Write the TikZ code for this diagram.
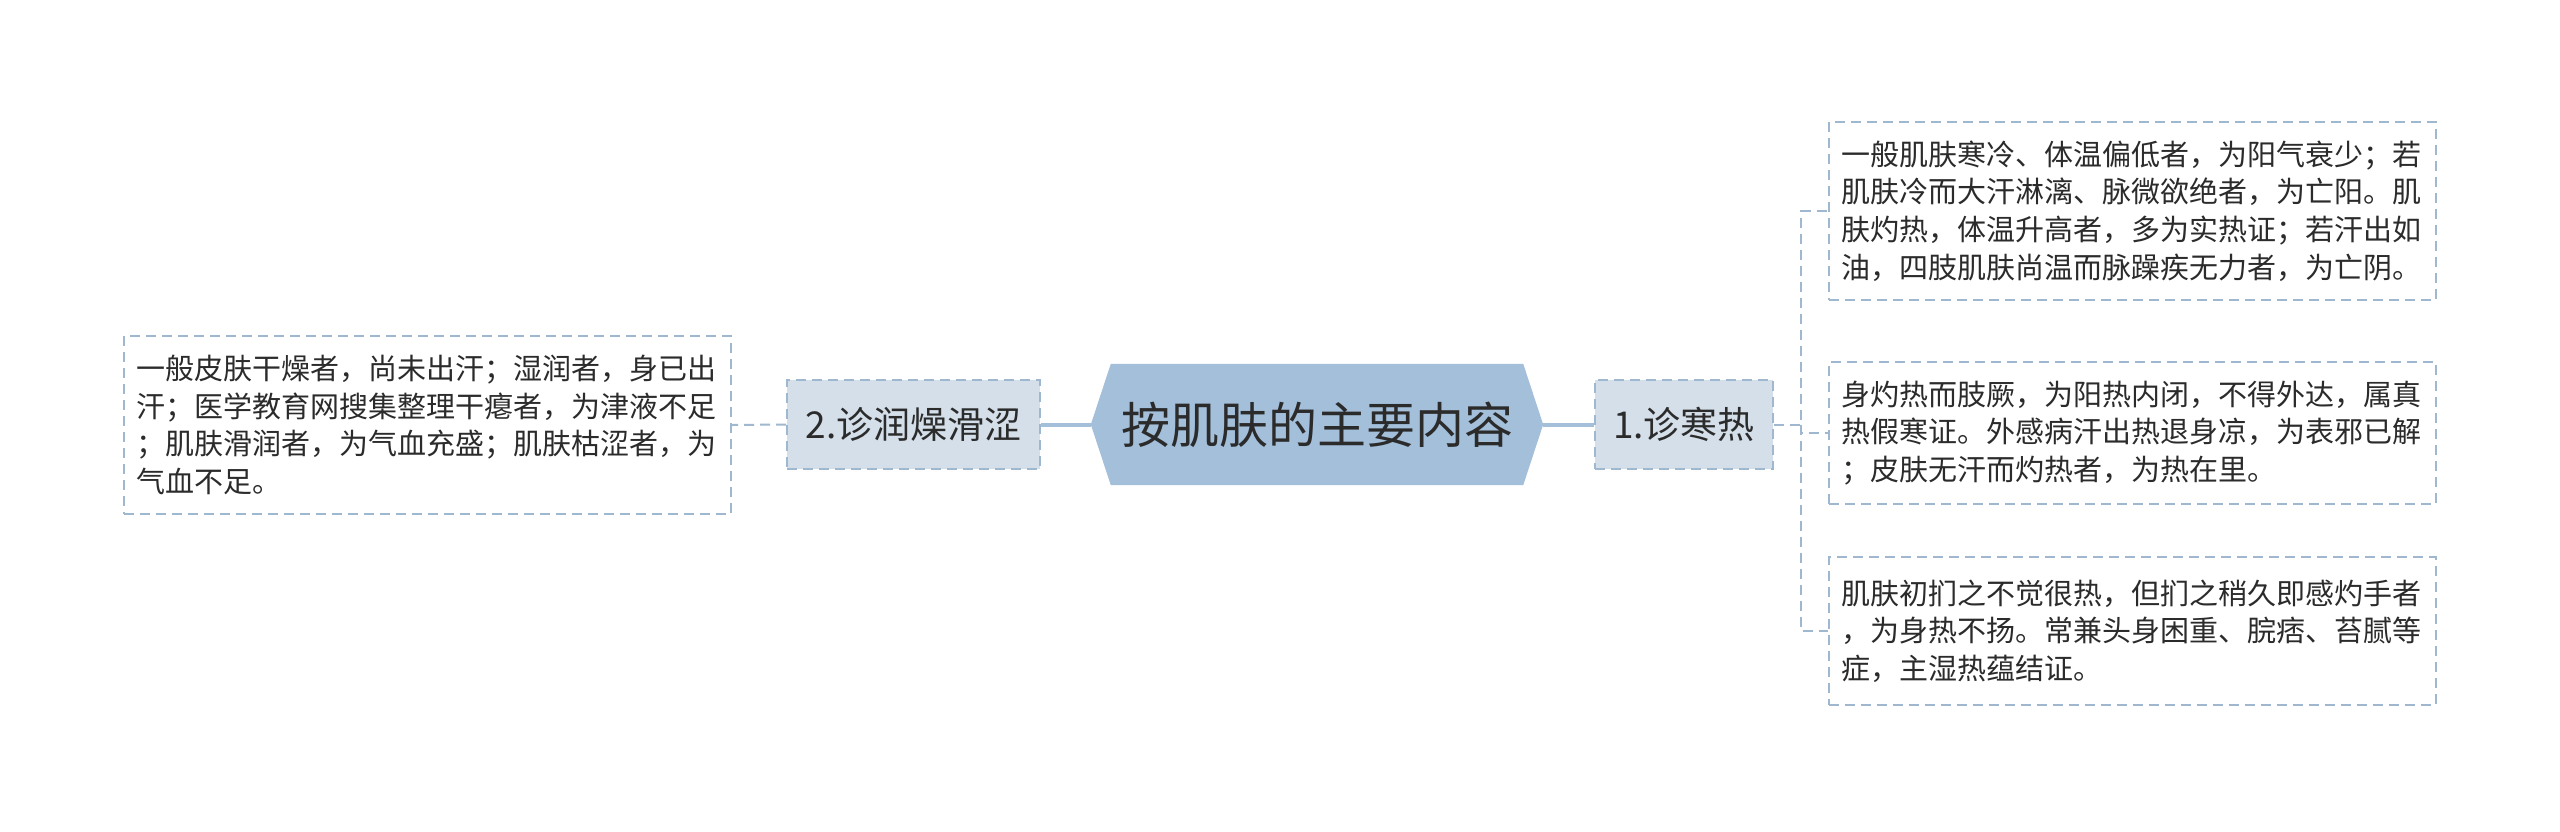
\documentclass[tikz,border=0pt]{standalone}
\usepackage{fontspec}
\setmainfont{Noto Sans CJK SC}
\usetikzlibrary{backgrounds}
\definecolor{hexfill}{HTML}{A3BFDA}
\definecolor{subfill}{HTML}{D4DFEA}
\definecolor{lineblue}{HTML}{9FB8CF}
\definecolor{txt}{HTML}{2B2B2B}
\begin{document}
\begin{tikzpicture}[x=1pt,y=-1pt,
  leaf/.style={draw=lineblue, dash pattern=on 10pt off 6pt, line width=2pt, fill=white,
    text width=582pt, align=left, inner xsep=12.5pt, inner ysep=0pt,
    font=\fontsize{29}{37.6}\selectfont, text=txt},
  subnode/.style={draw=lineblue, dash pattern=on 10pt off 6pt, line width=2pt, fill=subfill,
    inner sep=0pt, font=\fontsize{37}{44}\selectfont, text=txt, minimum height=89pt},
  mainnode/.style={inner sep=0pt, font=\fontsize{49}{56}\selectfont, text=txt,
    minimum width=452pt, minimum height=121pt},
  solidlink/.style={draw=hexfill, line width=4pt},
  dashlink/.style={draw=lineblue, line width=2pt, dash pattern=on 10pt off 6pt}
]
\useasboundingbox (0,0) rectangle (2560,831);

\node[mainnode] (c) at (1317,424.5) {按肌肤的主要内容};
\node[subnode, minimum width=178pt] (n1) at (1684,424.5) {1.诊寒热};
\node[subnode, minimum width=253pt] (n2) at (913.5,424.5) {2.诊润燥滑涩};

\node[leaf, minimum height=178pt] (r1) at (2132.5,211) {一般肌肤寒冷、体温偏低者，为阳气衰少；若\\肌肤冷而大汗淋漓、脉微欲绝者，为亡阳。肌\\肤灼热，体温升高者，多为实热证；若汗出如\\油，四肢肌肤尚温而脉躁疾无力者，为亡阴。};
\node[leaf, minimum height=142pt] (r2) at (2132.5,433) {身灼热而肢厥，为阳热内闭，不得外达，属真\\热假寒证。外感病汗出热退身凉，为表邪已解\\；皮肤无汗而灼热者，为热在里。};
\node[leaf, minimum height=148pt] (r3) at (2132.5,631) {肌肤初扪之不觉很热，但扪之稍久即感灼手者\\，为身热不扬。常兼头身困重、脘痞、苔腻等\\症，主湿热蕴结证。};
\node[leaf, minimum height=178pt] (l1) at (427.5,425) {一般皮肤干燥者，尚未出汗；湿润者，身已出\\汗；医学教育网搜集整理干瘪者，为津液不足\\；肌肤滑润者，为气血充盛；肌肤枯涩者，为\\气血不足。};

\coordinate (j) at (1801,424.5);

\begin{scope}[on background layer]
  \fill[white] (0,0) rectangle (2560,831);
  \fill[hexfill] ([xshift=20pt]c.north west) -- ([xshift=-20pt]c.north east) -- (c.east)
    -- ([xshift=-20pt]c.south east) -- ([xshift=20pt]c.south west) -- (c.west) -- cycle;
  \draw[solidlink] (c.east) -- (n1.west);
  \draw[solidlink] (c.west) -- (n2.east);
  \draw[dashlink] (n1.east) -- (j) |- (r1.west);
  \draw[dashlink] (j) |- (r2.west);
  \draw[dashlink] (j) |- (r3.west);
  \draw[dashlink] (n2.west) -- (l1.east);
\end{scope}
\end{tikzpicture}
\end{document}
